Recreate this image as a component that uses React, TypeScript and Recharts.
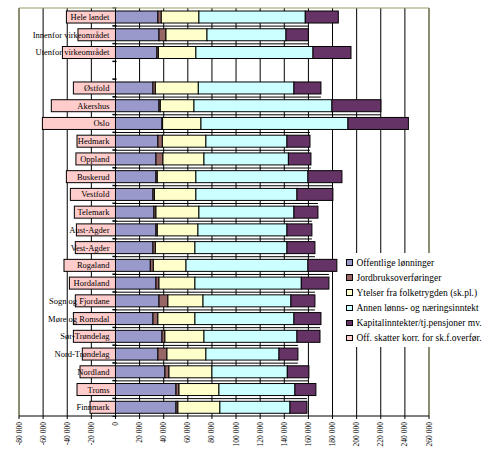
import {
  Bar,
  BarChart,
  CartesianGrid,
  Legend,
  ReferenceLine,
  XAxis,
  YAxis,
} from "recharts";

const regions = [
  "Hele landet",
  "Innenfor virkeområdet",
  "Utenfor virkeområdet",
  " ",
  "Østfold",
  "Akershus",
  "Oslo",
  "Hedmark",
  "Oppland",
  "Buskerud",
  "Vestfold",
  "Telemark",
  "Aust-Agder",
  "Vest-Agder",
  "Rogaland",
  "Hordaland",
  "Sogn og Fjordane",
  "Møre og Romsdal",
  "Sør-Trøndelag",
  "Nord-Trøndelag",
  "Nordland",
  "Troms",
  "Finnmark",
];

// kroner per person
const offentligeLonninger = [35200, 36100, 34400, null, 31100, 36100, 38600, 35200, 33600, 33600, 31100, 31900, 33600, 31100, 28900, 33600, 36100, 31100, 38600, 35200, 41000, 50200, 50200];
const jordbruksoverforinger = [2800, 5800, 1200, null, 2000, 1100, 500, 3700, 5800, 1100, 1200, 1700, 1100, 2000, 2500, 2500, 7400, 4100, 2400, 7500, 3400, 2500, 1600];
const ytelserFolketrygden = [31200, 34000, 31100, null, 35600, 27900, 31800, 36100, 34000, 32000, 34400, 35600, 33700, 32800, 27100, 29800, 29100, 30700, 32400, 32300, 35600, 33100, 34800];
const annenInntekt = [88200, 65500, 97100, null, 79300, 114400, 121900, 67200, 70000, 92900, 83800, 78800, 73800, 76300, 101100, 88200, 72900, 82100, 77100, 60600, 62500, 63000, 58100];
const kapitalinntekter = [27400, 18500, 31500, null, 22400, 40600, 50100, 19100, 18700, 28200, 29800, 19900, 20700, 23200, 24000, 22900, 19900, 22400, 19100, 15700, 17900, 17400, 14100];
const offSkatter = [-40700, -31100, -44000, null, -34900, -53200, -60600, -31900, -32800, -40700, -37400, -34100, -32400, -33300, -42700, -38200, -33300, -34900, -34900, -27500, -29400, -31900, -21100];

const xTicks = [-80000, -60000, -40000, -20000, 0, 20000, 40000, 60000, 80000, 100000, 120000, 140000, 160000, 180000, 200000, 220000, 240000, 260000];

const series = [
  { key: "off", name: "Offentlige lønninger", color: "#9999CC" },
  { key: "jord", name: "Jordbruksoverføringer", color: "#996666" },
  { key: "ytel", name: "Ytelser fra folketrygden (sk.pl.)", color: "#FFFFCC" },
  { key: "annen", name: "Annen lønns- og næringsinntekt", color: "#CCFFFF" },
  { key: "kap", name: "Kapitalinntekter/tj.pensjoner mv.", color: "#663366" },
  { key: "skatt", name: "Off. skatter korr. for sk.f.overfør.", color: "#FFCCCC" },
];

const data = regions.map((name, i) => ({
  name,
  off: offentligeLonninger[i],
  jord: jordbruksoverforinger[i],
  ytel: ytelserFolketrygden[i],
  annen: annenInntekt[i],
  kap: kapitalinntekter[i],
  skatt: offSkatter[i],
}));

const positiveTotal = (r: any) =>
  r.off == null ? null : r.off + r.jord + r.ytel + r.annen + r.kap;

const SERIF = "'Liberation Serif', 'Times New Roman', serif";
const GAP = 0.17; // barCategoryGap per side, share of the band
const gapSide = (h: number) => (h * GAP) / (1 - 2 * GAP);

const OutlinedBar = (props: any) => {
  const { x, y, width, height, fill } = props;
  if (width == null || !height) return null;
  return (
    <rect
      x={Math.min(x, x + width)}
      y={y}
      width={Math.abs(width)}
      height={height}
      fill={fill}
      stroke="#000"
      strokeWidth={1}
    />
  );
};

// last positive segment also draws the row divider towards the next bar
const KapitalBar = (props: any) => {
  const { x, y, width, height, payload } = props;
  const idx = data.findIndex((r) => r.name === payload.name);
  const next = data[idx + 1];
  const total = positiveTotal(payload);
  let divider = null;
  if (next && positiveTotal(next) != null && payload.kap) {
    const ppu = width / payload.kap;
    const zeroX = x - (total - payload.kap) * ppu;
    const endX = zeroX + Math.min(total, positiveTotal(next)) * ppu;
    const ly = y + height + gapSide(height);
    divider = <line x1={zeroX} x2={endX} y1={ly} y2={ly} stroke="#000" strokeWidth={1} />;
  }
  return (
    <g>
      <OutlinedBar {...props} />
      {divider}
    </g>
  );
};

// negative segment: pink bar, the region name and the axis ticks at the zero line
const SkattBar = (props: any) => {
  const { x, y, width, height, payload } = props;
  const zeroX = Math.max(x, x + width);
  const g = gapSide(height);
  return (
    <g>
      <OutlinedBar {...props} />
      <line x1={zeroX - 3} x2={zeroX + 1} y1={y - g} y2={y - g} stroke="#000" />
      <line x1={zeroX - 3} x2={zeroX + 1} y1={y + height + g} y2={y + height + g} stroke="#000" />
      <text
        x={zeroX - 6}
        y={y + height / 2}
        textAnchor="end"
        dominantBaseline="central"
        fontFamily={SERIF}
        fontSize={8.5}
        fill="#000"
      >
        {payload.name}
      </text>
    </g>
  );
};

const fmt = (v: number) => {
  const s = Math.abs(v).toString().replace(/\B(?=(\d{3})+(?!\d))/g, " ");
  return v < 0 ? "-" + s : s;
};

const XTick = (props: any) => {
  const { x, y, payload } = props;
  return (
    <text
      transform={`translate(${x},${y + 1}) rotate(-90)`}
      textAnchor="end"
      dominantBaseline="central"
      fontFamily={SERIF}
      fontSize={7.5}
      fill="#000"
    >
      {fmt(payload.value)}
    </text>
  );
};

// keep the series order (the default legend sorts by name)
const LegendBox = () => (
  <div style={{ paddingTop: 2, paddingLeft: 7, fontFamily: SERIF, fontSize: 9.5, color: "#000" }}>
    {series.map((s) => (
      <div key={s.key} style={{ display: "flex", alignItems: "center", height: 15.1, whiteSpace: "nowrap" }}>
        <span
          style={{
            display: "inline-block",
            width: 4.5,
            height: 4.5,
            border: "0.6px solid #000",
            background: s.color,
            marginRight: 4,
          }}
        />
        {s.name}
      </div>
    ))}
  </div>
);

export default function App() {
  return (
    <div style={{ position: "absolute", left: 0, top: 0, background: "#fff" }}>
      <BarChart
        width={490}
        height={458}
        data={data}
        layout="vertical"
        stackOffset="sign"
        barCategoryGap={`${GAP * 100}%`}
        margin={{ top: 8, right: 61, bottom: 0, left: 19 }}
      >
        <CartesianGrid horizontal={false} stroke="#000" strokeWidth={1} />
        <XAxis
          type="number"
          domain={[-80000, 260000]}
          ticks={xTicks}
          interval={0}
          height={42}
          tickSize={3}
          axisLine={{ stroke: "#000" }}
          tickLine={{ stroke: "#000" }}
          tick={<XTick />}
        />
        <YAxis type="category" dataKey="name" hide />
        <ReferenceLine x={-80000} stroke="#999966" strokeWidth={1} />
        <ReferenceLine x={260000} stroke="#999966" strokeWidth={1} />
        <ReferenceLine y="Hele landet" position="start" stroke="#999966" strokeWidth={1} />
        {series.map((s) => (
          <Bar
            key={s.key}
            dataKey={s.key}
            name={s.name}
            stackId="a"
            fill={s.color}
            isAnimationActive={false}
            shape={s.key === "kap" ? KapitalBar : s.key === "skatt" ? SkattBar : OutlinedBar}
          />
        ))}
        <Legend
          layout="vertical"
          align="center"
          verticalAlign="middle"
          wrapperStyle={{ position: "absolute", left: 339, top: 253, width: 151, height: 94, background: "#fff" }}
          content={<LegendBox />}
        />
      </BarChart>
    </div>
  );
}
